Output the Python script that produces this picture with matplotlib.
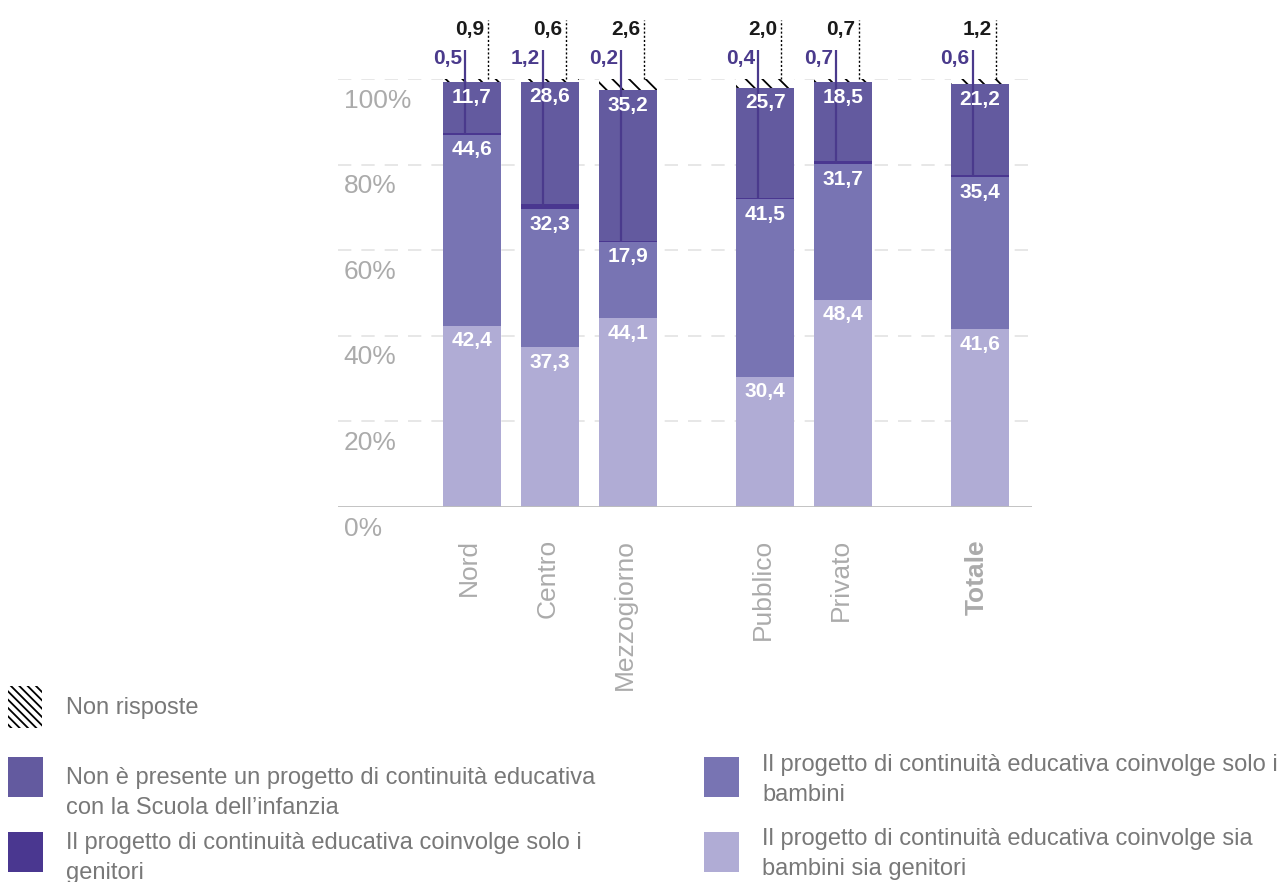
import numpy as np
import matplotlib.pyplot as plt
from matplotlib.patches import Rectangle

plt.rcParams['font.family'] = ['Liberation Sans', 'DejaVu Sans']
plt.rcParams['hatch.linewidth'] = 1.3

# Data (percent of services)
categories = ['Nord', 'Centro', 'Mezzogiorno', 'Pubblico', 'Privato', 'Totale']
sia_bambini_genitori = [42.4, 37.3, 44.1, 30.4, 48.4, 41.6]
solo_bambini = [44.6, 32.3, 17.9, 41.5, 31.7, 35.4]
solo_genitori = [0.5, 1.2, 0.2, 0.4, 0.7, 0.6]
non_presente = [11.7, 28.6, 35.2, 25.7, 18.5, 21.2]
non_risposte = [0.9, 0.6, 2.6, 2.0, 0.7, 1.2]
yticks = [0, 20, 40, 60, 80, 100]

c_sia = '#b0acd5'
c_bamb = '#7874b3'
c_gen = '#4a3790'
c_non = '#635a9f'
c_line = '#4a3a8c'
grey = '#ababab'
legend_grey = '#787878'

def fmt(v):
    return f'{v:.1f}'.replace('.', ',')

W, H = 1284, 882
fig = plt.figure(figsize=(W / 100, H / 100), dpi=100)
ax = fig.add_axes([338 / W, 1 - 507 / H, (1032 - 338) / W, (507 - 79) / H])

# grouped positions: three areas, two management types, total
x = np.array([0, 1, 2, 3.76, 4.76, 6.51])
width = 0.744

s1 = np.array(sia_bambini_genitori)
s2 = np.array(solo_bambini)
s3 = np.array(solo_genitori)
s4 = np.array(non_presente)
s5 = np.array(non_risposte)

b2 = s1
b3 = s1 + s2
b4 = b3 + s3
b5 = b4 + s4

ax.bar(x, s1, width, color=c_sia, zorder=2)
ax.bar(x, s2, width, bottom=b2, color=c_bamb, zorder=2)
ax.bar(x, s3, width, bottom=b3, color=c_gen, zorder=2)
ax.bar(x, s4, width, bottom=b4, color=c_non, zorder=2)
ax.bar(x, s5, width, bottom=b5, color='white', edgecolor='black', hatch='\\\\',
       linewidth=0, zorder=2)

# labels inside the segments
for vals, bottoms in [(s1, np.zeros(6)), (s2, b2), (s4, b4)]:
    for xi, v, b in zip(x, vals, bottoms):
        ax.annotate(fmt(v), (xi, b + v), xytext=(0, -4), textcoords='offset points',
                    ha='center', va='top', color='white', fontsize=15,
                    fontweight='bold', zorder=5)

# leader lines for the two smallest items
px = 1 / 78
for xi, g, b, top, nr in zip(x, s3, b3, b5 + s5, s5):
    lx = xi - 7 * px
    ax.plot([lx, lx], [b + g / 2, 106.8], color=c_line, lw=1.6, zorder=3,
            clip_on=False, solid_capstyle='butt')
    ax.text(lx - 3 * px, 104.9, fmt(g), ha='right', va='center', color=c_line,
            fontsize=15, fontweight='bold', clip_on=False)
    dx = xi + 16 * px
    ax.plot([dx, dx], [top, 113.8], color='black', lw=1, ls=(0, (1.5, 1.5)),
            zorder=3, clip_on=False)
    ax.text(dx - 4 * px, 111.6, fmt(nr), ha='right', va='center', color='#1a1a1a',
            fontsize=15, fontweight='bold', clip_on=False)

ax.set_xlim(-1.718, 7.18)
ax.set_ylim(0, 100)

for y in yticks[1:]:
    ax.axhline(y, color='#e3e3e3', lw=1.2, ls=(0, (8, 6)), zorder=1)
ax.axhline(0, color='#bdbdbd', lw=2, zorder=3)

for s in ax.spines.values():
    s.set_visible(False)
ax.set_xticks([])
ax.set_yticks([])

for y in yticks:
    ax.annotate(f'{y}%', (0, y), xycoords=('axes fraction', 'data'),
                xytext=(4, -15.5), textcoords='offset points', ha='left', va='center',
                color=grey, fontsize=19)

for xi, c in zip(x, categories):
    ax.annotate(c, (xi, 0), xycoords='data', xytext=(-2, -23), textcoords='offset points',
                rotation=90, ha='center', va='top', color=grey, fontsize=19,
                fontweight='bold' if c == 'Totale' else 'normal', annotation_clip=False)

# legend
def fx(p):
    return p / W

def fy(p):
    return 1 - p / H

fig.patches.append(Rectangle((fx(8), fy(728)), fx(34), 42 / H, transform=fig.transFigure,
                             facecolor='white', edgecolor='black', hatch='\\\\\\\\',
                             linewidth=0))
fig.text(fx(66), fy(708), 'Non risposte', color=legend_grey, fontsize=17, va='center')

items = [
    (8, 757, c_non, 66, 793, 'Non è presente un progetto di continuità educativa\ncon la Scuola dell’infanzia'),
    (8, 832, c_gen, 66, 858, 'Il progetto di continuità educativa coinvolge solo i\ngenitori'),
    (704, 757, c_bamb, 762, 780, 'Il progetto di continuità educativa coinvolge solo i\nbambini'),
    (704, 832, c_sia, 762, 854, 'Il progetto di continuità educativa coinvolge sia\nbambini sia genitori'),
]
for sx, sy, col, tx, ty, label in items:
    fig.patches.append(Rectangle((fx(sx), fy(sy + 40)), fx(35), 40 / H,
                                 transform=fig.transFigure, facecolor=col, linewidth=0))
    fig.text(fx(tx), fy(ty), label, color=legend_grey, fontsize=17, va='center',
             linespacing=1.45)

fig.savefig('out.png', dpi=100)
